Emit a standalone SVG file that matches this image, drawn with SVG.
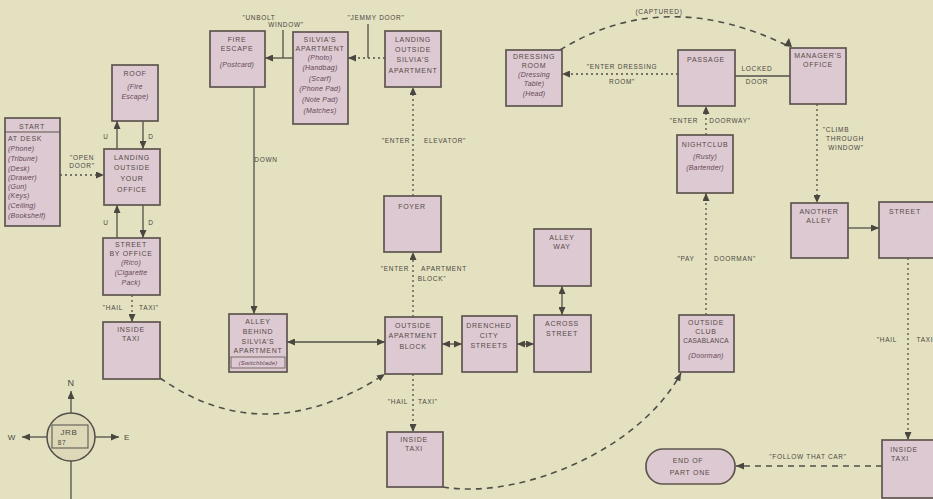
<svg xmlns="http://www.w3.org/2000/svg" width="933" height="499" viewBox="0 0 933 499">
<defs>
<style>
.n rect{fill:#ddc9d1;stroke:#5f554f;stroke-width:1.7}
.t{font-family:"Liberation Sans",Arial,sans-serif;font-size:7px;fill:#574a4a;text-anchor:middle;letter-spacing:0.7px}
.i{font-style:italic;fill:#654858;letter-spacing:0.2px}
.l{font-family:"Liberation Sans",Arial,sans-serif;font-size:6.5px;fill:#4a473e;text-anchor:middle;letter-spacing:0.7px}
.s{stroke:#524f48;stroke-width:1.3;fill:none}
.d{stroke:#524f48;stroke-width:1.3;fill:none;stroke-dasharray:2 3}
.dl{stroke:#524f48;stroke-width:1.6;fill:none;stroke-dasharray:6 5}
</style>
<marker id="a" viewBox="0 0 8 7" refX="8" refY="3.5" markerWidth="8" markerHeight="7" markerUnits="userSpaceOnUse" orient="auto-start-reverse"><path d="M0,0 L8,3.5 L0,7 z" fill="#4a4741"/></marker>
</defs>
<rect width="933" height="499" fill="#e4e1c1"/>

<g id="connectors">
<path class="d" d="M60,175 H104" marker-end="url(#a)"/>
<text class="l" x="82" y="160">"OPEN</text><text class="l" x="82" y="168">DOOR"</text>
<path class="s" d="M117,149 V121" marker-end="url(#a)"/>
<path class="s" d="M143,121 V149" marker-end="url(#a)"/>
<text class="l" x="106" y="139">U</text><text class="l" x="151" y="139">D</text>
<path class="s" d="M117,238 V205" marker-end="url(#a)"/>
<path class="s" d="M143,205 V238" marker-end="url(#a)"/>
<text class="l" x="106" y="225">U</text><text class="l" x="151" y="225">D</text>
<path class="d" d="M132,295 V322" marker-end="url(#a)"/>
<text class="l" x="113" y="310">"HAIL</text><text class="l" x="149" y="310">TAXI"</text>
<path class="dl" d="M160,378 Q265,452 385,374" marker-end="url(#a)"/>
<path class="s" d="M254,87 V314" marker-end="url(#a)"/>
<text class="l" x="266" y="162">DOWN</text>
<path class="s" d="M293,58 H265" marker-end="url(#a)"/>
<path class="s" d="M283,30 V58"/>
<text class="l" x="259" y="20">"UNBOLT</text><text class="l" x="286" y="27">WINDOW"</text>
<path class="d" d="M385,58 H348" marker-end="url(#a)"/>
<path class="s" d="M368,24 V58"/>
<text class="l" x="376" y="20">"JEMMY DOOR"</text>
<path class="d" d="M413,196 V87" marker-end="url(#a)"/>
<text class="l" x="396" y="143">"ENTER</text><text class="l" x="445" y="143">ELEVATOR"</text>
<path class="d" d="M413,317 V252" marker-end="url(#a)"/>
<text class="l" x="395" y="271">"ENTER</text><text class="l" x="444" y="271">APARTMENT</text><text class="l" x="432" y="281">BLOCK"</text>
<path class="s" d="M287,342 H385" marker-start="url(#a)" marker-end="url(#a)"/>
<path class="s" d="M442,344 H462" marker-start="url(#a)" marker-end="url(#a)"/>
<path class="s" d="M517,344 H534" marker-start="url(#a)" marker-end="url(#a)"/>
<path class="s" d="M562,315 V286" marker-start="url(#a)" marker-end="url(#a)"/>
<path class="d" d="M413,374 V432" marker-end="url(#a)"/>
<text class="l" x="398" y="404">"HAIL</text><text class="l" x="428" y="404">TAXI"</text>
<path class="dl" d="M443,487 C520,500 640,450 681,373" marker-end="url(#a)"/>
<path class="d" d="M706,315 V193" marker-end="url(#a)"/>
<text class="l" x="686" y="261">"PAY</text><text class="l" x="735" y="261">DOORMAN"</text>
<path class="d" d="M706,135 V106" marker-end="url(#a)"/>
<text class="l" x="684" y="123">"ENTER</text><text class="l" x="730" y="123">DOORWAY"</text>
<path class="d" d="M678,74 H562" marker-end="url(#a)"/>
<text class="l" x="622" y="69">"ENTER DRESSING</text><text class="l" x="622" y="84">ROOM"</text>
<path class="s" d="M735,76 H790"/>
<text class="l" x="757" y="71">LOCKED</text><text class="l" x="757" y="84">DOOR</text>
<path class="dl" d="M560,50 Q665,-15 790,47"/>
<path d="M784,46 L789,38 L792,47 z" fill="#4a4741"/>
<text class="l" x="659" y="14">(CAPTURED)</text>
<path class="d" d="M817,104 V203" marker-end="url(#a)"/>
<text class="l" x="836" y="132">"CLIMB</text><text class="l" x="845" y="141">THROUGH</text><text class="l" x="846" y="150">WINDOW"</text>
<path class="s" d="M848,228 H879" marker-end="url(#a)"/>
<path class="d" d="M908,258 V440" marker-end="url(#a)"/>
<text class="l" x="887" y="342">"HAIL</text><text class="l" x="925" y="342">TAXI</text>
<path class="dl" d="M882,466 H736" marker-end="url(#a)"/>
<text class="l" x="808" y="459">"FOLLOW THAT CAR"</text>
</g>

<g id="start" class="n"><rect x="5" y="118" width="55" height="108"/><path d="M5,132 H60" stroke="#5f554f" stroke-width="1.2"/>
<text class="t" x="32" y="129">START</text>
<text class="t" x="8" y="141" style="text-anchor:start">AT DESK</text>
<text class="t i" x="8" y="151" style="text-anchor:start">(Phone)</text><text class="t i" x="8" y="161" style="text-anchor:start">(Tribune)</text><text class="t i" x="8" y="171" style="text-anchor:start">(Desk)</text><text class="t i" x="8" y="180" style="text-anchor:start">(Drawer)</text><text class="t i" x="8" y="189" style="text-anchor:start">(Gun)</text><text class="t i" x="8" y="198" style="text-anchor:start">(Keys)</text><text class="t i" x="8" y="208" style="text-anchor:start">(Ceiling)</text><text class="t i" x="8" y="218" style="text-anchor:start">(Bookshelf)</text></g>

<g id="roof" class="n"><rect x="112" y="65" width="46" height="56"/><text class="t" x="135" y="76">ROOF</text><text class="t i" x="135" y="89">(Fire</text><text class="t i" x="135" y="99">Escape)</text></g>
<g id="landing-office" class="n"><rect x="104" y="149" width="56" height="56"/><text class="t" x="132" y="160">LANDING</text><text class="t" x="132" y="170">OUTSIDE</text><text class="t" x="132" y="181">YOUR</text><text class="t" x="132" y="192">OFFICE</text></g>
<g id="street-office" class="n"><rect x="103" y="238" width="57" height="57"/><text class="t" x="131" y="247">STREET</text><text class="t" x="131" y="256">BY OFFICE</text><text class="t i" x="131" y="265">(Rico)</text><text class="t i" x="131" y="275">(Cigarette</text><text class="t i" x="131" y="285">Pack)</text></g>
<g id="taxi-1" class="n"><rect x="103" y="322" width="57" height="57"/><text class="t" x="131" y="332">INSIDE</text><text class="t" x="131" y="341">TAXI</text></g>

<g id="fire-escape" class="n"><rect x="210" y="31" width="55" height="56"/><text class="t" x="237" y="42">FIRE</text><text class="t" x="237" y="51">ESCAPE</text><text class="t i" x="237" y="67">(Postcard)</text></g>
<g id="silvia-apt" class="n"><rect x="293" y="32" width="55" height="92"/><text class="t" x="320" y="42">SILVIA'S</text><text class="t" x="320" y="51">APARTMENT</text><text class="t i" x="320" y="60">(Photo)</text><text class="t i" x="320" y="70">(Handbag)</text><text class="t i" x="320" y="81">(Scarf)</text><text class="t i" x="320" y="91">(Phone Pad)</text><text class="t i" x="320" y="102">(Note Pad)</text><text class="t i" x="320" y="113">(Matches)</text></g>
<g id="landing-silvia" class="n"><rect x="385" y="31" width="56" height="56"/><text class="t" x="413" y="42">LANDING</text><text class="t" x="413" y="52">OUTSIDE</text><text class="t" x="413" y="62">SILVIA'S</text><text class="t" x="413" y="73">APARTMENT</text></g>
<g id="foyer" class="n"><rect x="384" y="196" width="57" height="56"/><text class="t" x="412" y="209">FOYER</text></g>
<g id="alley-behind" class="n"><rect x="229" y="314" width="58" height="58"/><text class="t" x="258" y="324">ALLEY</text><text class="t" x="258" y="334">BEHIND</text><text class="t" x="258" y="344">SILVIA'S</text><text class="t" x="258" y="353">APARTMENT</text><rect x="231" y="357" width="54" height="11" style="fill:none;stroke-width:0.8"/><text class="t i" x="258" y="365" style="font-size:6px">(Switchblade)</text></g>
<g id="outside-apt" class="n"><rect x="385" y="317" width="57" height="57"/><text class="t" x="413" y="328">OUTSIDE</text><text class="t" x="413" y="338">APARTMENT</text><text class="t" x="413" y="349">BLOCK</text></g>
<g id="drenched" class="n"><rect x="462" y="316" width="55" height="56"/><text class="t" x="489" y="328">DRENCHED</text><text class="t" x="489" y="338">CITY</text><text class="t" x="489" y="348">STREETS</text></g>
<g id="across" class="n"><rect x="534" y="315" width="57" height="57"/><text class="t" x="562" y="326">ACROSS</text><text class="t" x="562" y="336">STREET</text></g>
<g id="alley-way" class="n"><rect x="534" y="229" width="57" height="57"/><text class="t" x="562" y="240">ALLEY</text><text class="t" x="562" y="249">WAY</text></g>
<g id="taxi-2" class="n"><rect x="387" y="432" width="56" height="55"/><text class="t" x="414" y="442">INSIDE</text><text class="t" x="414" y="451">TAXI</text></g>
<g id="outside-club" class="n"><rect x="679" y="315" width="55" height="57"/><text class="t" x="706" y="325">OUTSIDE</text><text class="t" x="706" y="334">CLUB</text><text class="t" x="706" y="343" style="font-size:6.5px;letter-spacing:0.2px">CASABLANCA</text><text class="t i" x="706" y="358">(Doorman)</text></g>
<g id="nightclub" class="n"><rect x="677" y="135" width="56" height="58"/><text class="t" x="705" y="147">NIGHTCLUB</text><text class="t i" x="705" y="159">(Rusty)</text><text class="t i" x="705" y="170">(Bartender)</text></g>
<g id="passage" class="n"><rect x="678" y="50" width="57" height="56"/><text class="t" x="706" y="62">PASSAGE</text></g>
<g id="dressing" class="n"><rect x="506" y="50" width="56" height="56"/><text class="t" x="534" y="59">DRESSING</text><text class="t" x="534" y="68">ROOM</text><text class="t i" x="534" y="77">(Dressing</text><text class="t i" x="534" y="86">Table)</text><text class="t i" x="534" y="96">(Head)</text></g>
<g id="manager" class="n"><rect x="790" y="48" width="56" height="56"/><text class="t" x="818" y="58">MANAGER'S</text><text class="t" x="818" y="67">OFFICE</text></g>
<g id="another-alley" class="n"><rect x="791" y="203" width="57" height="55"/><text class="t" x="819" y="214">ANOTHER</text><text class="t" x="819" y="223">ALLEY</text></g>
<g id="street-2" class="n"><rect x="879" y="202" width="60" height="56"/><text class="t" x="905" y="214">STREET</text></g>
<g id="taxi-3" class="n"><rect x="882" y="440" width="60" height="58"/><text class="t" x="904" y="452">INSIDE</text><text class="t" x="900" y="461">TAXI</text></g>
<g id="end" class="n"><rect x="646" y="449" width="89" height="35" rx="17" ry="17"/><text class="t" x="688" y="463">END OF</text><text class="t" x="690" y="475">PART ONE</text></g>

<g id="compass">
<circle cx="71" cy="437" r="24" fill="#dcd8b8" stroke="#524f48" stroke-width="1.5"/>
<rect x="52" y="425" width="36" height="23" fill="none" stroke="#524f48" stroke-width="1"/>
<text class="l" x="69" y="435" style="font-size:8px">JRB</text>
<text class="l" x="62" y="445">87</text>
<path class="s" d="M71,413 V391" marker-end="url(#a)"/>
<path class="s" d="M47,437 H22" marker-end="url(#a)"/>
<path class="s" d="M95,437 H119" marker-end="url(#a)"/>
<path class="s" d="M71,461 V499"/>
<text class="l" x="71" y="386" style="font-size:9px">N</text>
<text class="l" x="12" y="440" style="font-size:8px">W</text>
<text class="l" x="127" y="440" style="font-size:8px">E</text>
</g>
</svg>
